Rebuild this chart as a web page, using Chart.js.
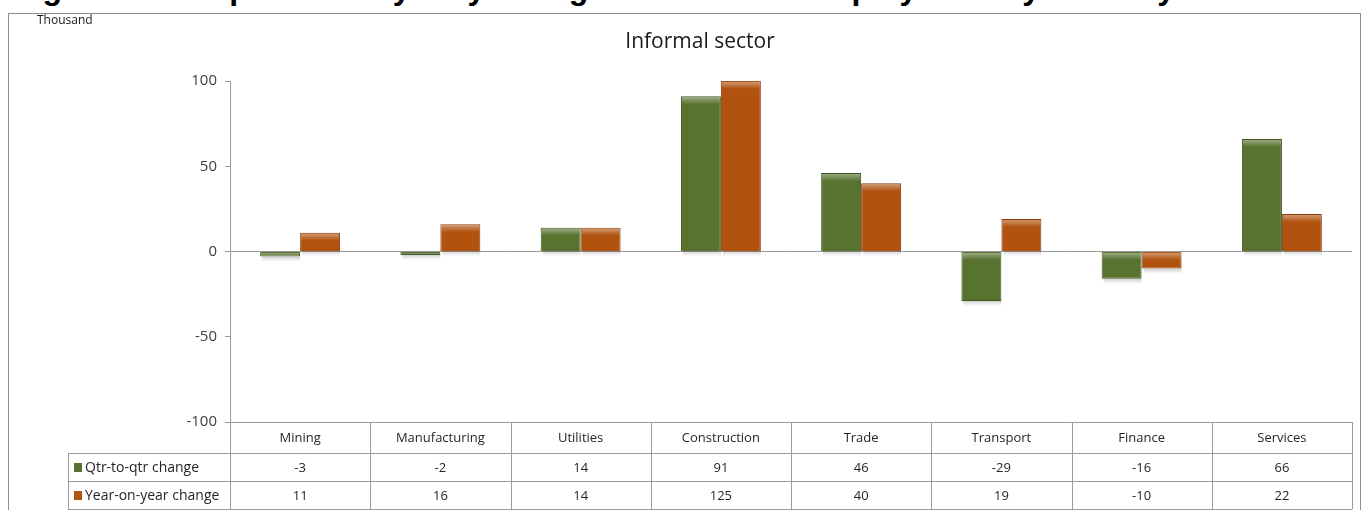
<!DOCTYPE html>
<html>
<head>
<meta charset="utf-8">
<script src="https://cdn.jsdelivr.net/npm/chart.js@4.4.1/dist/chart.umd.min.js"></script>
<style>
  html, body { margin: 0; padding: 0; background: #fff; overflow: hidden; }
  #wrap { position: relative; width: 1365px; height: 510px; }
  #caption {
    position: absolute; left: 14px; top: -28px; white-space: nowrap;
    font: bold 32px "Liberation Sans", Arial, sans-serif; line-height: 1; color: #000;
  }
  #frame {
    position: absolute; left: 8px; top: 13px; width: 1353px; height: 520px;
    border: 1px solid #8c8c8c; box-sizing: border-box;
  }
  canvas { position: absolute; left: 0; top: 0; }
</style>
</head>
<body>
<div id="wrap">
  <div id="caption">Figure 5: Comparison of yearly changes in informal employment by industry</div>
  <div id="frame"></div>
  <canvas id="chart" width="1365" height="510"></canvas>
</div>
<script>
const categories = ["Mining", "Manufacturing", "Utilities", "Construction", "Trade", "Transport", "Finance", "Services"];
const qtrChange = [-3, -2, 14, 91, 46, -29, -16, 66];
const yoyChange = [11, 16, 14, 125, 40, 19, -10, 22];
const seriesNames = ["Qtr-to-qtr change", "Year-on-year change"];
const yMin = -100, yMax = 100, yStep = 50;

const fillColors = ["#58722f", "#b1520f"];
const edgeColors = ["#3f5421", "#8a3e09"];
const lineGray = "#9a9a9a";
const font = "\"Open Sans\", \"Noto Sans\", sans-serif";

// soft bevel highlight on top edge of each bar
const bevel = {
  id: "bevel",
  afterDatasetsDraw(chart) {
    const ctx = chart.ctx, area = chart.chartArea;
    ctx.save();
    ctx.beginPath();
    ctx.rect(area.left, area.top, area.right - area.left, area.bottom - area.top);
    ctx.clip();
    chart.data.datasets.forEach((ds, i) => {
      chart.getDatasetMeta(i).data.forEach((bar) => {
        const top = Math.max(Math.min(bar.y, bar.base), area.top);
        const bottom = Math.max(bar.y, bar.base);
        const left = bar.x - bar.width / 2, w = bar.width;
        const h = Math.min(8, bottom - top);
        if (h <= 0) return;
        const g = ctx.createLinearGradient(0, top, 0, top + h);
        g.addColorStop(0, "rgba(255,255,255,0.45)");
        g.addColorStop(1, "rgba(255,255,255,0)");
        ctx.fillStyle = g;
        ctx.fillRect(left + 1, top + 1, w - 2, h);
        const s = ctx.createLinearGradient(0, bottom, 0, bottom + 5);
        s.addColorStop(0, "rgba(0,0,0,0.18)");
        s.addColorStop(1, "rgba(0,0,0,0)");
        ctx.fillStyle = s;
        ctx.fillRect(left + 2, bottom, w - 2, 5);
      });
    });
    ctx.restore();
  }
};

// title, unit and the data table under the plot
const extras = {
  id: "extras",
  afterDraw(chart) {
    const ctx = chart.ctx, area = chart.chartArea, x = chart.scales.x;
    const colW = (area.right - area.left) / categories.length;
    const rows = [area.bottom, area.bottom + 31, area.bottom + 59, area.bottom + 87];
    const legendLeft = 68;
    ctx.save();
    ctx.fillStyle = "#1a1a1a";
    ctx.font = "21px " + font;
    ctx.textAlign = "center";
    ctx.textBaseline = "middle";
    ctx.fillText("Informal sector", 700, 42);
    ctx.font = "12px " + font;
    ctx.textAlign = "left";
    ctx.fillText("Thousand", 37, 21);

    ctx.strokeStyle = lineGray;
    ctx.lineWidth = 1;
    ctx.beginPath();
    ctx.moveTo(area.left, rows[0] + 0.5); ctx.lineTo(area.right, rows[0] + 0.5);
    for (let r = 1; r < rows.length; r++) {
      ctx.moveTo(legendLeft, rows[r] + 0.5); ctx.lineTo(area.right, rows[r] + 0.5);
    }
    ctx.moveTo(legendLeft + 0.5, rows[1]); ctx.lineTo(legendLeft + 0.5, rows[3]);
    for (let c = 0; c <= categories.length; c++) {
      const px = Math.round(area.left + c * colW) + 0.5;
      ctx.moveTo(px, rows[0]); ctx.lineTo(px, rows[3]);
    }
    ctx.stroke();

    ctx.fillStyle = "#262626";
    ctx.font = "13px " + font;
    ctx.textAlign = "center";
    categories.forEach((cat, i) => {
      const cx = x.getPixelForValue(i);
      ctx.fillText(cat, cx, (rows[0] + rows[1]) / 2 + 1);
      ctx.fillText(String(qtrChange[i]), cx, (rows[1] + rows[2]) / 2 + 1);
      ctx.fillText(String(yoyChange[i]), cx, (rows[2] + rows[3]) / 2 + 1);
    });
    ctx.textAlign = "left";
    ctx.font = "14px " + font;
    seriesNames.forEach((name, i) => {
      const cy = (rows[i + 1] + rows[i + 2]) / 2 + 1;
      ctx.fillStyle = fillColors[i];
      ctx.fillRect(legendLeft + 6, cy - 5, 8, 9);
      ctx.fillStyle = "#262626";
      ctx.fillText(name, legendLeft + 17, cy);
    });
    ctx.restore();
  }
};

new Chart(document.getElementById("chart"), {
  type: "bar",
  data: {
    labels: categories,
    datasets: [
      { label: seriesNames[0], data: qtrChange, backgroundColor: fillColors[0], borderColor: edgeColors[0], borderWidth: 1 },
      { label: seriesNames[1], data: yoyChange, backgroundColor: fillColors[1], borderColor: edgeColors[1], borderWidth: 1 }
    ]
  },
  options: {
    responsive: false,
    animation: false,
    layout: { padding: { top: 81, bottom: 88, left: 0, right: 13 } },
    datasets: { bar: { categoryPercentage: 0.57, barPercentage: 1 } },
    scales: {
      x: { display: false },
      y: {
        min: yMin,
        max: yMax,
        afterFit: (s) => { s.width = 230; },
        ticks: { stepSize: yStep, color: "#404040", padding: 8, font: { family: font, size: 15 } },
        grid: {
          color: (c) => (c.tick && c.tick.value === 0 ? lineGray : "rgba(0,0,0,0)"),
          tickColor: lineGray,
          tickLength: 5
        },
        border: { color: lineGray }
      }
    },
    plugins: {
      legend: { display: false },
      tooltip: { enabled: false }
    }
  },
  plugins: [bevel, extras]
});
</script>
</body>
</html>
